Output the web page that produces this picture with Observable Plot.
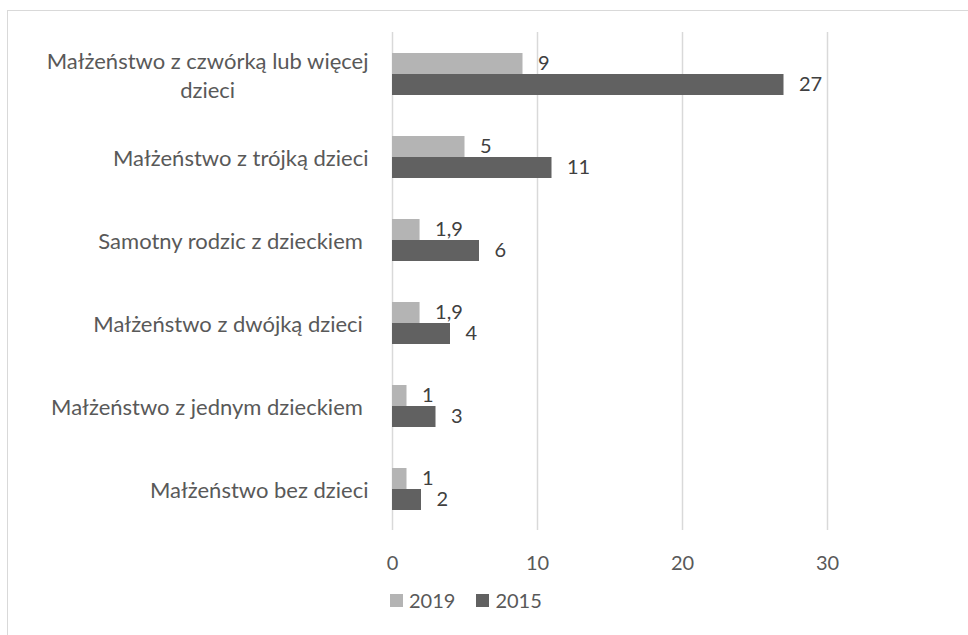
<!DOCTYPE html>
<html>
<head>
<meta charset="utf-8">
<script src="https://cdn.jsdelivr.net/npm/d3@7"></script>
<script src="https://cdn.jsdelivr.net/npm/@observablehq/plot@0.6"></script>
<style>
  body { margin: 0; background: #fff; overflow: hidden; }
  #chart { position: relative; width: 968px; height: 635px; overflow: hidden; font-family: Lato, sans-serif; color: #595959; }
  #frame { position: absolute; left: 7px; top: 10px; width: 1200px; height: 900px; border: 1.5px solid #d9d9d9; box-sizing: border-box; }
  #plot { position: absolute; left: 0; top: 0; }
  #plot text { white-space: pre; }
  #legend { position: absolute; left: 390px; top: 588px; display: flex; align-items: center; font-size: 20px; line-height: 24px; }
  .item { display: flex; align-items: center; margin-right: 21px; }
  .swatch { width: 13px; height: 13px; margin-right: 6px; }
</style>
</head>
<body>
<div id="chart">
  <div id="frame"></div>
  <div id="plot"></div>
  <div id="legend"></div>
</div>
<script>
// Households by type: share (%) in 2015 and 2019
const categories = [
  "Małżeństwo z czwórką lub więcej\ndzieci",
  "Małżeństwo z trójką dzieci",
  "Samotny rodzic z dzieckiem ",
  "Małżeństwo z dwójką dzieci ",
  "Małżeństwo z jednym dzieckiem ",
  "Małżeństwo bez dzieci"
];
const series = ["2019", "2015"];
const values2019 = [9, 5, 1.9, 1.9, 1, 1];
const values2015 = [27, 11, 6, 4, 3, 2];
const xTicks = [0, 10, 20, 30];
const colors = ["#b4b4b4", "#616161"];

const rows = categories.flatMap((category, i) => [
  { category, series: series[0], value: values2019[i] },
  { category, series: series[1], value: values2015[i] }
]);

// Polish decimal comma
const fmt = (v) => String(v).replace(".", ",");

const chart = Plot.plot({
  width: 968,
  height: 575,
  marginLeft: 392,
  marginRight: 141,
  marginTop: 32,
  marginBottom: 45,
  style: { fontFamily: "Lato, sans-serif", fontSize: "20px", color: "#595959", background: "transparent", overflow: "visible" },
  x: { domain: [0, 30] },
  fy: { domain: categories, padding: 0 },
  y: { domain: series, paddingInner: 0, paddingOuter: 0.93 },
  color: { domain: series, range: colors },
  marks: [
    Plot.ruleX(xTicks, { stroke: "#d9d9d9", strokeWidth: 1.5 }),
    Plot.barX(rows, { x: "value", y: "series", fy: "category", fill: "series" }),
    Plot.text(rows, {
      x: "value", y: "series", fy: "category",
      text: (d) => fmt(d.value),
      textAnchor: "start", dx: 15, fill: "#404040"
    }),
    Plot.axisX(xTicks, { tickSize: 0, tickPadding: 25, label: null, fill: "#595959" }),
    Plot.axisY({ ticks: [], label: null, tickSize: 0 }),
    Plot.axisFy({ anchor: "left", tickSize: 0, tickPadding: 24, label: null, lineHeight: 1.32, fontSize: 22, fill: "#595959" })
  ]
});

document.getElementById("plot").appendChild(chart);

// Wrapped category labels are centred on their widest line
chart.querySelectorAll("text").forEach((t) => {
  const spans = t.querySelectorAll("tspan");
  if (spans.length > 1) {
    const box = t.getBBox();
    const cx = box.x + box.width / 2;
    t.setAttribute("text-anchor", "middle");
    spans.forEach((s) => s.setAttribute("x", cx));
  }
});

// Legend
const legend = document.getElementById("legend");
series.forEach((s, i) => {
  const item = document.createElement("div");
  item.className = "item";
  const sw = document.createElement("div");
  sw.className = "swatch";
  sw.style.background = colors[i];
  const label = document.createElement("span");
  label.textContent = s;
  item.append(sw, label);
  legend.append(item);
});
</script>
</body>
</html>
